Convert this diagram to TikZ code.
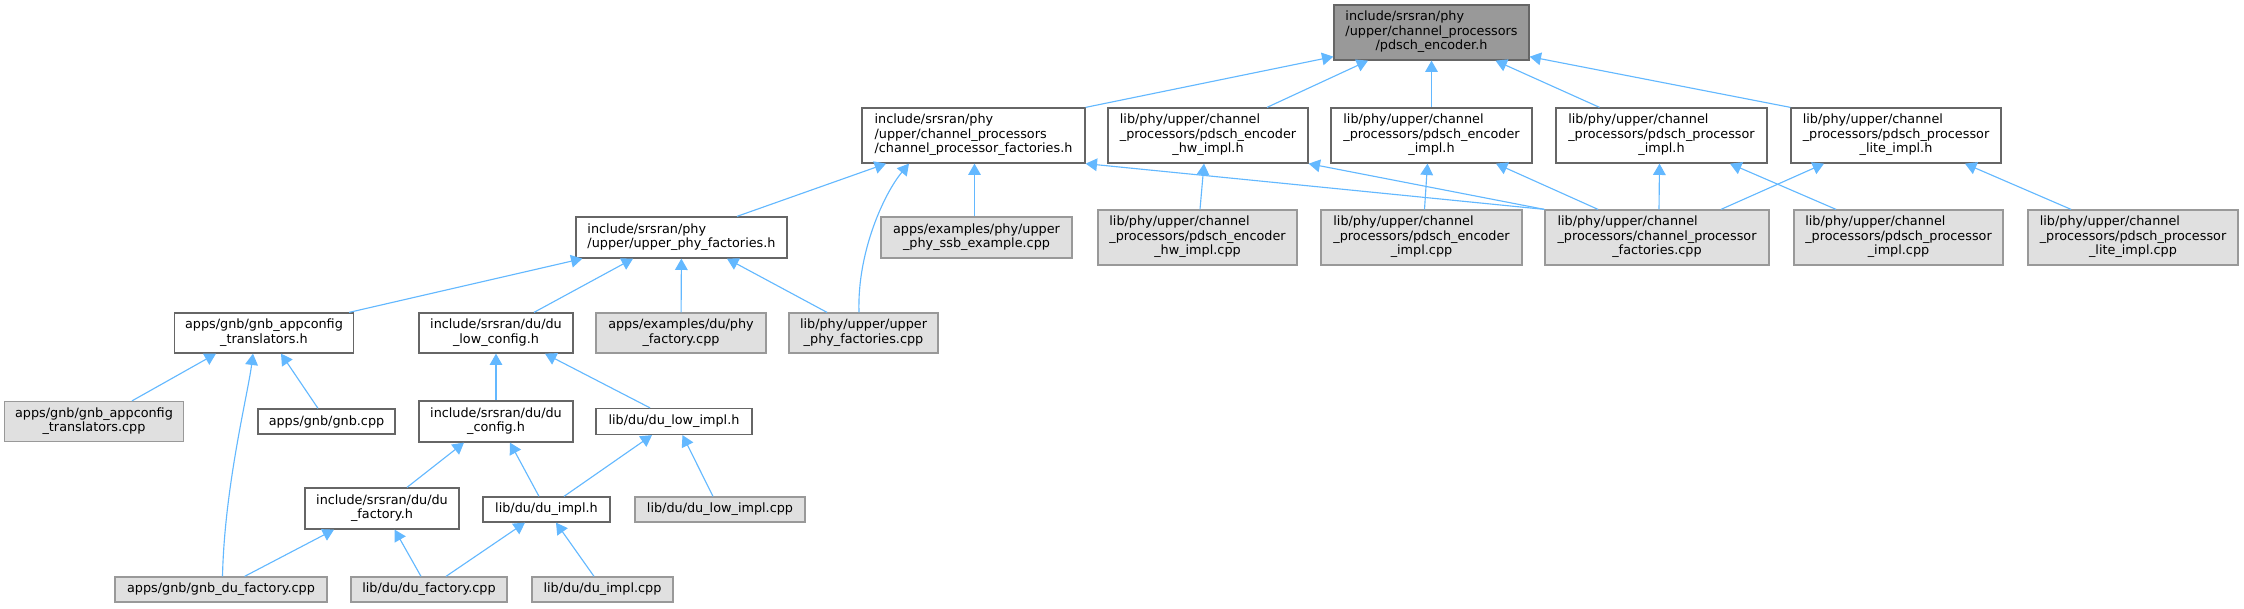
\documentclass[tikz,border=0pt]{standalone}
\usepackage{fontspec}
\setmainfont{DejaVu Sans}
\usetikzlibrary{arrows.meta, calc}

\definecolor{edgeblue}{HTML}{63B8FF}
\definecolor{hborder}{HTML}{666666}
\definecolor{cppborder}{HTML}{999999}
\definecolor{cppfill}{HTML}{E0E0E0}
\definecolor{topfill}{HTML}{999999}

% left-aligned lines, last line centred (doxygen style)
\newcommand{\flines}[2]{\begin{tabular}{@{}l@{}}#1\\\multicolumn{1}{@{}c@{}}{#2}\end{tabular}}

\begin{document}
\begin{tikzpicture}[
  x=0.75pt, y=-0.75pt,
  boxsize/.style 2 args={minimum width=#1*0.75pt, minimum height=#2*0.75pt},
  hfile/.style={draw=hborder, fill=white, line width=0.95pt, inner sep=0pt, font=\fontsize{9.6pt}{10.8pt}\selectfont},
  cppfile/.style={hfile, draw=cppborder, fill=cppfill},
  topfile/.style={hfile, fill=topfill},
  dep/.style={{Triangle[length=8.5pt, width=9.5pt]}-, edgeblue, line width=0.85pt}
]
  \useasboundingbox (0,0) rectangle (2244,608);

  % the header itself
  \node[topfile, boxsize={195}{55}] (encoder) at (1431.5, 32.5) {\flines{include/srsran/phy\\/upper/channel\_processors}{/pdsch\_encoder.h}};

  % headers that include it
  \node[hfile, boxsize={223}{55}] (chfact) at (973.5, 135.5) {\flines{include/srsran/phy\\/upper/channel\_processors}{/channel\_processor\_factories.h}};
  \node[hfile, boxsize={200}{55}] (enchw) at (1208, 135.5) {\flines{lib/phy/upper/channel\\\_processors/pdsch\_encoder}{\_hw\_impl.h}};
  \node[hfile, boxsize={201}{55}] (encimpl) at (1431.5, 135.5) {\flines{lib/phy/upper/channel\\\_processors/pdsch\_encoder}{\_impl.h}};
  \node[hfile, boxsize={211}{55}] (procimpl) at (1661.5, 135.5) {\flines{lib/phy/upper/channel\\\_processors/pdsch\_processor}{\_impl.h}};
  \node[hfile, boxsize={210}{55}] (litimpl) at (1896, 135.5) {\flines{lib/phy/upper/channel\\\_processors/pdsch\_processor}{\_lite\_impl.h}};

  % third rank
  \node[hfile, boxsize={211}{41}] (upperfact) at (681.5, 237.5) {\flines{include/srsran/phy}{/upper/upper\_phy\_factories.h}};
  \node[cppfile, boxsize={191}{41}] (ssbex) at (976.5, 237.5) {\flines{apps/examples/phy/upper}{\_phy\_ssb\_example.cpp}};
  \node[cppfile, boxsize={199}{55}] (enchwcpp) at (1197.5, 237.5) {\flines{lib/phy/upper/channel\\\_processors/pdsch\_encoder}{\_hw\_impl.cpp}};
  \node[cppfile, boxsize={201}{55}] (encimplcpp) at (1421.5, 237.5) {\flines{lib/phy/upper/channel\\\_processors/pdsch\_encoder}{\_impl.cpp}};
  \node[cppfile, boxsize={224}{55}] (chfactcpp) at (1657, 237.5) {\flines{lib/phy/upper/channel\\\_processors/channel\_processor}{\_factories.cpp}};
  \node[cppfile, boxsize={209}{55}] (procimplcpp) at (1898.5, 237.5) {\flines{lib/phy/upper/channel\\\_processors/pdsch\_processor}{\_impl.cpp}};
  \node[cppfile, boxsize={210}{55}] (litimplcpp) at (2133, 237.5) {\flines{lib/phy/upper/channel\\\_processors/pdsch\_processor}{\_lite\_impl.cpp}};

  % fourth rank
  \node[hfile, boxsize={179}{40}] (translh) at (264, 333) {\flines{apps/gnb/gnb\_appconfig}{\_translators.h}};
  \node[hfile, boxsize={154}{40}] (dulowcfg) at (496, 333) {\flines{include/srsran/du/du}{\_low\_config.h}};
  \node[cppfile, boxsize={170}{40}] (phyfact) at (681, 333) {\flines{apps/examples/du/phy}{\_factory.cpp}};
  \node[cppfile, boxsize={149}{40}] (upperfactcpp) at (863.5, 333) {\flines{lib/phy/upper/upper}{\_phy\_factories.cpp}};

  % fifth rank
  \node[cppfile, boxsize={179}{40}] (translcpp) at (94, 421.5) {\flines{apps/gnb/gnb\_appconfig}{\_translators.cpp}};
  \node[hfile, boxsize={137}{25}] (gnbcpp) at (326.5, 421.5) {apps/gnb/gnb.cpp};
  \node[hfile, boxsize={154}{41}] (ducfg) at (496, 421.5) {\flines{include/srsran/du/du}{\_config.h}};
  \node[hfile, boxsize={156}{26}] (dulowimpl) at (674, 421.5) {lib/du/du\_low\_impl.h};

  % sixth rank
  \node[hfile, boxsize={154}{41}] (dufacth) at (382, 508.5) {\flines{include/srsran/du/du}{\_factory.h}};
  \node[hfile, boxsize={127}{25}] (duimpl) at (546.5, 509.5) {lib/du/du\_impl.h};
  \node[cppfile, boxsize={170}{25}] (dulowimplcpp) at (720, 509.5) {lib/du/du\_low\_impl.cpp};

  % last rank
  \node[cppfile, boxsize={212}{25}] (gnbdufact) at (221, 589.5) {apps/gnb/gnb\_du\_factory.cpp};
  \node[cppfile, boxsize={156}{25}] (dufactcpp) at (429, 589.5) {lib/du/du\_factory.cpp};
  \node[cppfile, boxsize={141}{25}] (duimplcpp) at (602.5, 589.5) {lib/du/du\_impl.cpp};

  % include edges
  \draw[dep] ($(encoder.south west)+(0,-4)$) -- (chfact.north east);
  \draw[dep] ($(encoder.south)+(-63.5,0)$) -- ($(enchw.north)+(59,0)$);
  \draw[dep] (encoder) -- (encimpl);
  \draw[dep] ($(encoder.south)+(64,0)$) -- ($(procimpl.north)+(-62,0)$);
  \draw[dep] ($(encoder.south east)+(0,-4)$) -- (litimpl.north west);

  \draw[dep] ($(chfact.south)+(-87.5,0)$) -- ($(upperfact.north)+(55.5,0)$);
  \draw[dep] ($(chfact.south)+(1,0)$) -- ($(ssbex.north)+(-2,0)$);
  \draw[dep] ($(chfact.south)+(-64.5,0)$) .. controls +(-25,30) and +(-2,-60) .. ($(upperfactcpp.north)+(-4.5,0)$);
  \draw[dep] (chfact.south east) -- (chfactcpp.north west);

  \draw[dep] ($(enchw.south)+(-4,0)$) -- ($(enchwcpp.north)+(2.5,0)$);
  \draw[dep] (enchw.south east) -- (chfactcpp.north west);

  \draw[dep] ($(encimpl.south)+(-4,0)$) -- ($(encimplcpp.north)+(3,0)$);
  \draw[dep] ($(encimpl.south)+(64.5,0)$) -- ($(chfactcpp.north)+(-59,0)$);

  \draw[dep] ($(procimpl.south)+(-2,0)$) -- ($(chfactcpp.north)+(2,0)$);
  \draw[dep] ($(procimpl.south)+(68.5,0)$) -- ($(procimplcpp.north)+(-62.5,0)$);

  \draw[dep] ($(litimpl.south)+(-72,0)$) -- ($(chfactcpp.north)+(64,0)$);
  \draw[dep] ($(litimpl.south)+(69,0)$) -- ($(litimplcpp.north)+(-62,0)$);

  \draw[dep] ($(upperfact.south west)+(7,0)$) -- ($(translh.north east)+(-5,0)$);
  \draw[dep] ($(upperfact.south)+(-48.5,0)$) -- ($(dulowcfg.north)+(38,0)$);
  \draw[dep] (upperfact) -- (phyfact);
  \draw[dep] ($(upperfact.south)+(45.5,0)$) -- ($(upperfactcpp.north)+(-36.5,0)$);

  \draw[dep] ($(translh.south)+(-48,0)$) -- ($(translcpp.north)+(38,0)$);
  \draw[dep] ($(translh.south)+(17,0)$) -- ($(gnbcpp.north)+(-8.5,0)$);
  \draw[dep] ($(translh.south)+(-11,0)$) .. controls +(-5,40) and +(2,-90) .. ($(gnbdufact.north)+(1.5,0)$);

  \draw[dep] (dulowcfg) -- (ducfg);
  \draw[dep] ($(dulowcfg.south)+(49,0)$) -- ($(dulowimpl.north)+(-24,0)$);

  \draw[dep] ($(ducfg.south)+(-32,0)$) -- ($(dufacth.north)+(25,0)$);
  \draw[dep] ($(ducfg.south)+(14,0)$) -- ($(duimpl.north)+(-7.5,0)$);
  \draw[dep] ($(dulowimpl.south)+(-22,0)$) -- ($(duimpl.north)+(17.5,0)$);
  \draw[dep] ($(dulowimpl.south)+(8.5,0)$) -- ($(dulowimplcpp.north)+(-7,0)$);

  \draw[dep] ($(dufacth.south)+(-48,0)$) -- ($(gnbdufact.north)+(23.6,0)$);
  \draw[dep] ($(dufacth.south)+(12.6,0)$) -- ($(dufactcpp.north)+(-8,0)$);
  \draw[dep] ($(duimpl.south)+(-21.5,0)$) -- ($(dufactcpp.north)+(17,0)$);
  \draw[dep] ($(duimpl.south)+(9.5,0)$) -- ($(duimplcpp.north)+(-8.5,0)$);
\end{tikzpicture}
\end{document}
